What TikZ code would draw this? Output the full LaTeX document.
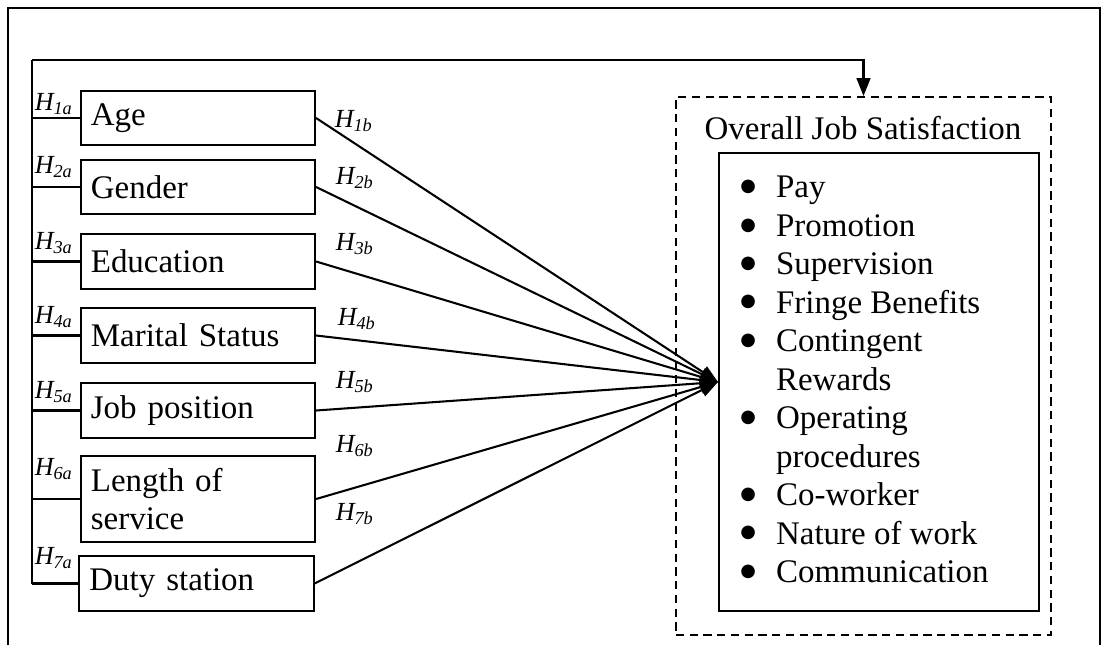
\documentclass[tikz,border=0pt]{standalone}
\usepackage{fontspec}
\setmainfont{Liberation Serif}
\newfontfamily\dotfont{DejaVu Sans}
\usetikzlibrary{arrows.meta}

\tikzset{
  varbox/.style={draw, minimum width=85.2pt, minimum height=19.8pt, text width=78pt,
    inner xsep=3.4pt, align=left, font=\fontsize{12}{14}\selectfont},
  hlabel/.style={font=\fontsize{9.5}{11}\selectfont\itshape, inner sep=0pt},
  tip/.style={-{Triangle[length=6.5pt,width=5pt]}},
}
\newcommand{\bigdot}{\makebox[4.4pt][c]{\raisebox{2.3pt}{\dotfont\fontsize{6.5}{7}\selectfont ●}}}

\begin{document}
\begin{tikzpicture}[x=0.364pt, y=-0.364pt, line width=0.75pt]
\useasboundingbox (0,0) rectangle (1107,644);

% frame
\draw (8,8) rectangle (1100,652);

% variables on the left
\node (age) [varbox] at (198,118) {Age};
\node (gender) [varbox] at (198,187) {Gender};
\node (educ) [varbox] at (198,261.5) {Education};
\node (marital) [varbox] at (198,335.5) {Marital Status};
\node (jobpos) [varbox] at (198,410.5) {Job position};
\node (length) [varbox, minimum height=31.3pt] at (198,499) {Length of\\service};
\node (duty) [varbox] at (196.5,583.5) {Duty station};

% bus line and stubs
\coordinate (bustop) at (32,60);
\draw (bustop) -- (bustop |- duty.west);
\draw (age.west) -- (age.west -| bustop);
\draw (gender.west) -- (gender.west -| bustop);
\draw (educ.west) -- (educ.west -| bustop);
\draw (marital.west) -- (marital.west -| bustop);
\draw (jobpos.west) -- (jobpos.west -| bustop);
\draw (length.west) -- (length.west -| bustop);
\draw (duty.west) -- (duty.west -| bustop);

% a-hypotheses
\node (h1a) [hlabel] at (54,104) {H\textsubscript{1a}};
\node (h2a) [hlabel] at (54,167) {H\textsubscript{2a}};
\node (h3a) [hlabel] at (54,243) {H\textsubscript{3a}};
\node (h4a) [hlabel] at (54,317) {H\textsubscript{4a}};
\node (h5a) [hlabel] at (54,392) {H\textsubscript{5a}};
\node (h6a) [hlabel] at (54,469) {H\textsubscript{6a}};
\node (h7a) [hlabel] at (54,558) {H\textsubscript{7a}};

% overall job satisfaction
\node (overall) [draw, dash pattern=on 3pt off 2pt, minimum width=136.5pt, minimum height=195.8pt] at (863.5,366) {};
\node (title) [font=\fontsize{12}{14}\selectfont] at (863,128) {Overall Job Satisfaction};
\node (facets) [draw, minimum width=116.5pt, minimum height=166.7pt] at (879,382) {};
\node (items) [anchor=west, inner sep=0pt, font=\fontsize{12}{14}\selectfont] at (741,382.5) {%
  \begin{tabular}{@{}l@{\hspace{8pt}}l@{}}
  \bigdot & Pay\\
  \bigdot & Promotion\\
  \bigdot & Supervision\\
  \bigdot & Fringe Benefits\\
  \bigdot & Contingent\\
          & Rewards\\
  \bigdot & Operating\\
          & procedures\\
  \bigdot & Co-worker\\
  \bigdot & Nature of work\\
  \bigdot & Communication
  \end{tabular}};

% feedback arrow
\draw[tip] (bustop) -| (overall.north);

% b-hypotheses
\draw[tip] (age.east) -- (facets.west);
\draw[tip] (gender.east) -- (facets.west);
\draw[tip] (educ.east) -- (facets.west);
\draw[tip] (marital.east) -- (facets.west);
\draw[tip] (jobpos.east) -- (facets.west);
\draw[tip] (length.east) -- (facets.west);
\draw[tip] (duty.east) -- (facets.west);

\node (h1b) [hlabel] at (354,121) {H\textsubscript{1b}};
\node (h2b) [hlabel] at (355,178) {H\textsubscript{2b}};
\node (h3b) [hlabel] at (355,244) {H\textsubscript{3b}};
\node (h4b) [hlabel] at (357,319) {H\textsubscript{4b}};
\node (h5b) [hlabel] at (355,382) {H\textsubscript{5b}};
\node (h6b) [hlabel] at (355,446) {H\textsubscript{6b}};
\node (h7b) [hlabel] at (355,514) {H\textsubscript{7b}};

\end{tikzpicture}
\end{document}
